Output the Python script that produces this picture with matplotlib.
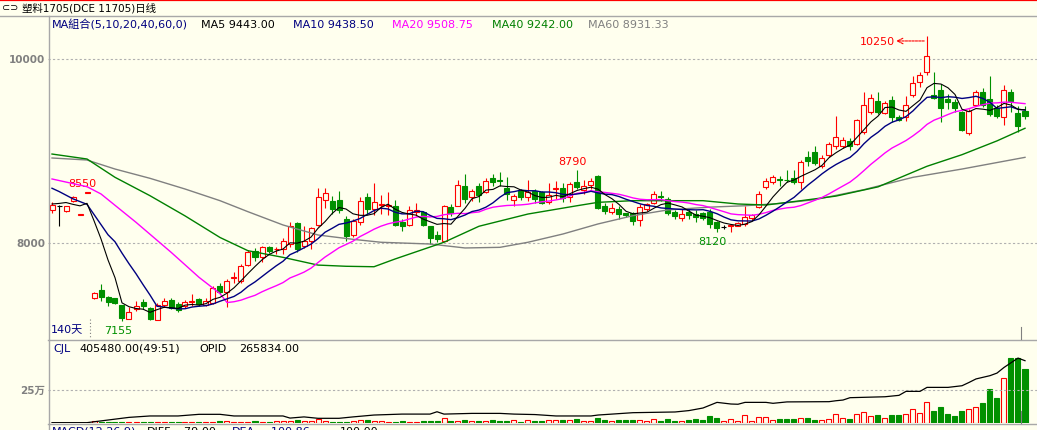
import numpy as np
import pandas as pd
import matplotlib
matplotlib.use("Agg")
import matplotlib.pyplot as plt
from matplotlib.patches import Rectangle
from matplotlib.lines import Line2D

#-----------------------
#Data
#-----------------------
opens = [8362, 8400, 8345, 8453, 8300, 8540, 7400, 7492, 7410, 7400,
         7326, 7174, 7283, 7362, 7290, 7166, 7330, 7380, 7337, 7318,
         7355, 7391, 7330, 7348, 7536, 7471, 7620, 7591, 7760, 7916,
         7844, 7953, 7930, 7935, 7989, 8217, 7971, 8025, 8196, 8467,
         8460, 8467, 8261, 8087, 8225, 8497, 8370, 8410, 8400, 8405,
         8232, 8199, 8334, 8334, 8182, 8087, 8025, 8388, 8405, 8623,
         8497, 8623, 8551, 8706, 8680, 8595, 8471, 8569, 8497, 8569,
         8551, 8442, 8590, 8595, 8497, 8660, 8580, 8634, 8732, 8405,
         8334, 8370, 8326, 8326, 8253, 8370, 8435, 8510, 8478, 8340,
         8268, 8334, 8315, 8323, 8334, 8225, 8170, 8190, 8188, 8207,
         8268, 8388, 8605, 8660, 8700, 8690, 8703, 8660, 8932, 8986,
         8840, 8957, 9058, 9054, 9109, 9076, 9203, 9427, 9547, 9410,
         9554, 9373, 9366, 9609, 9747, 9855, 9609, 9663, 9565, 9536,
         9421, 9196, 9500, 9645, 9565, 9464, 9366, 9638, 9413, 9438]
highs = [8449, 8410, 8405, 8510, 8315, 8550, 7470, 7554, 7427, 7405,
         7326, 7300, 7373, 7390, 7300, 7350, 7400, 7400, 7360, 7380,
         7445, 7400, 7400, 7530, 7560, 7610, 7690, 7770, 7920, 7950,
         7970, 7970, 7960, 8050, 8232, 8230, 8180, 8170, 8595, 8595,
         8510, 8560, 8290, 8260, 8500, 8540, 8650, 8520, 8550, 8470,
         8260, 8400, 8440, 8350, 8190, 8130, 8410, 8420, 8680, 8750,
         8590, 8650, 8710, 8750, 8770, 8720, 8530, 8590, 8680, 8590,
         8570, 8650, 8670, 8650, 8660, 8790, 8680, 8710, 8740, 8430,
         8430, 8400, 8330, 8340, 8424, 8440, 8560, 8560, 8500, 8360,
         8370, 8370, 8360, 8340, 8370, 8240, 8200, 8210, 8225, 8405,
         8320, 8560, 8710, 8740, 8730, 8790, 8790, 8900, 9000, 9050,
         8960, 9095, 9377, 9150, 9140, 9350, 9645, 9620, 9645, 9545,
         9600, 9390, 9600, 9819, 9855, 10250, 9855, 9728, 9620, 9565,
         9440, 9457, 9666, 9680, 9819, 9500, 9717, 9674, 9492, 9486]
lows = [8330, 8190, 8340, 8445, 8300, 8540, 7390, 7373, 7312, 7340,
        7155, 7170, 7264, 7283, 7165, 7160, 7300, 7280, 7250, 7290,
        7320, 7320, 7310, 7340, 7450, 7304, 7565, 7570, 7750, 7800,
        7790, 7890, 7880, 7880, 7953, 7900, 7945, 7940, 8188, 8380,
        8320, 8330, 8020, 8060, 8200, 8320, 8300, 8310, 8300, 8180,
        8130, 8180, 8290, 8180, 7990, 8010, 8020, 8290, 8400, 8440,
        8460, 8450, 8540, 8620, 8620, 8470, 8405, 8470, 8460, 8440,
        8420, 8420, 8480, 8450, 8450, 8590, 8530, 8590, 8370, 8320,
        8310, 8260, 8280, 8196, 8188, 8350, 8420, 8460, 8300, 8260,
        8240, 8260, 8230, 8250, 8160, 8120, 8150, 8120, 8180, 8188,
        8255, 8380, 8590, 8640, 8620, 8660, 8640, 8590, 8840, 8850,
        8820, 8932, 9022, 9030, 9010, 9070, 9185, 9400, 9400, 9400,
        9312, 9330, 9330, 9584, 9692, 9830, 9565, 9320, 9456, 9420,
        9220, 9174, 9486, 9480, 9377, 9360, 9286, 9421, 9203, 9348]
closes = [8413, 8400, 8399, 8497, 8310, 8550, 7455, 7410, 7355, 7345,
          7181, 7247, 7312, 7318, 7174, 7326, 7373, 7293, 7275, 7355,
          7365, 7337, 7373, 7508, 7464, 7591, 7630, 7753, 7905, 7844,
          7953, 7916, 7940, 8018, 8182, 7935, 8025, 8160, 8497, 8543,
          8370, 8359, 8079, 8236, 8460, 8370, 8449, 8420, 8410, 8196,
          8188, 8362, 8359, 8196, 8054, 8043, 8405, 8326, 8630, 8478,
          8569, 8522, 8677, 8666, 8672, 8532, 8508, 8497, 8558, 8478,
          8432, 8522, 8600, 8486, 8641, 8605, 8623, 8677, 8380, 8345,
          8380, 8315, 8305, 8242, 8388, 8424, 8533, 8500, 8323, 8290,
          8315, 8304, 8279, 8268, 8207, 8163, 8170, 8200, 8214, 8279,
          8304, 8533, 8677, 8714, 8690, 8685, 8660, 8877, 8888, 8870,
          8924, 9076, 9149, 9120, 9054, 9340, 9500, 9573, 9427, 9522,
          9366, 9340, 9500, 9739, 9826, 10036, 9573, 9464, 9536, 9464,
          9232, 9438, 9638, 9500, 9402, 9384, 9663, 9547, 9268, 9377]

# volume in thousands of lots
volume = [3, 3, 3, 3, 3, 3, 13, 8, 8, 8,
          8, 8, 8, 8, 8, 8, 8, 8, 8, 8,
          8, 8, 8, 8, 15, 15, 8, 8, 8, 15,
          8, 8, 15, 15, 15, 23, 15, 15, 30, 15,
          8, 8, 8, 15, 23, 23, 15, 15, 8, 8,
          15, 8, 8, 15, 15, 15, 38, 15, 15, 23,
          15, 15, 15, 23, 15, 15, 23, 8, 23, 15,
          15, 23, 23, 23, 23, 30, 15, 15, 38, 23,
          15, 23, 23, 23, 23, 15, 30, 15, 30, 15,
          15, 23, 30, 23, 53, 38, 15, 30, 15, 61,
          15, 45, 45, 23, 30, 30, 30, 38, 38, 23,
          23, 30, 68, 38, 30, 68, 83, 53, 61, 38,
          61, 61, 68, 106, 76, 157, 91, 121, 68, 53,
          91, 106, 121, 152, 258, 189, 341, 492, 492, 405.48]

# open interest (thousands), read at these days
opid_day = [0, 5, 11, 14, 18, 21, 24, 26, 33, 34, 36, 38, 41, 43, 46, 50, 54, 55, 56,
            60, 64, 66, 69, 72, 77, 78, 83, 89, 91, 93, 95, 97, 98, 99, 102, 103, 105,
            111, 112, 113, 114, 119, 121, 122, 124, 125, 128, 130, 131, 132, 134, 135,
            136, 138, 139]
opid_val = [1.4, 1.4, 24, 30, 30, 37, 37, 30, 30, 21, 26, 20, 20, 26, 34, 38, 38, 48, 38,
            41, 41, 38, 36, 30, 30, 34, 44, 47, 53, 64, 88, 81, 80, 88, 88, 84, 90,
            91, 95, 98, 108, 112, 118, 135, 135, 152, 152, 159, 173, 188, 202, 213,
            237, 277, 265.834]

# moving averages that reach back before the first visible day
ma5_head = [8424, 8430, 8440, 8420]
ma10_head = [8595, 8560, 8520, 8480, 8450, 8420, 8310, 8200, 8090]
ma20_day = [0, 5, 7, 12, 17, 21, 24]
ma20_val = [8696, 8612, 8533, 8225, 7900, 7627, 7450]
ma40_day = [0, 5, 9, 14, 19, 24, 28, 33, 38, 42, 46, 49, 56, 61, 68, 75, 78, 83, 93,
            98, 102, 107, 112, 118, 125, 130, 135, 139]
ma40_val = [8967, 8913, 8714, 8514, 8295, 8060, 7916, 7844, 7760, 7747, 7742, 7826, 8008,
            8182, 8315, 8405, 8442, 8460, 8460, 8424, 8413, 8460, 8510, 8610, 8834, 8960,
            9110, 9247]
ma60_day = [0, 5, 9, 14, 19, 24, 28, 33, 38, 43, 47, 54, 59, 64, 68, 73, 78, 83, 88,
            94, 99, 104, 109, 116, 123, 130, 139]
ma60_val = [8924, 8902, 8804, 8703, 8587, 8460, 8340, 8196, 8087, 8040, 8008, 7989, 7946,
            7953, 8008, 8098, 8207, 8297, 8360, 8390, 8405, 8430, 8471, 8580, 8714, 8804,
            8931]

#--------------
#Style
#--------------
plt.rcParams['font.family'] = ['DejaVu Sans', 'Noto Sans CJK SC']
W, H = 1037, 431
BG = '#FFFFEE'
RED = '#FF0000'
GRN = '#009000'
NAVY = '#000080'
GRAY = '#808080'
LINE = '#A8A8A8'

fig = plt.figure(figsize=(W / 100, H / 100), dpi=100, facecolor=BG)

def fx(x):
    return x / W

def fy(y):
    return 1 - y / H

def fline(xs, ys, **kw):
    fig.add_artist(Line2D([fx(x) for x in xs], [fy(y) for y in ys],
                          transform=fig.transFigure, **kw))

def ftext(x, y, s, **kw):
    kw.setdefault('fontsize', 8)
    kw.setdefault('va', 'center')
    fig.text(fx(x), fy(y), s, **kw)

# frame lines
fline([0, W], [0.8, 0.8], color=RED, lw=1.6)
fline([0, W], [16.5, 16.5], color=LINE, lw=1)
fline([48.5, 48.5], [17, H], color=LINE, lw=1)
fline([48, W], [340.5, 340.5], color=LINE, lw=1)
fline([48, W], [424.5, 424.5], color=LINE, lw=1)

ftext(2, 8, '⊂⊃', fontsize=7)
ftext(22, 8, '塑料1705(DCE 11705)日线', fontsize=7.5)

#--------------
#Price panel
#--------------
ppx = 2000 / 184  # price per pixel
ax = fig.add_axes([fx(48), fy(340), fx(W) - fx(48), (340 - 17) / H])
ax.set_xlim(-4 / 7, (W - 52) / 7)
ax.set_ylim(8000 - 96 * ppx, 8000 + 227 * ppx)
ax.axis('off')

for lvl in [8000, 10000]:
    ax.axhline(lvl, color='#B0B0B0', lw=0.8, ls=(0, (2, 2)))
ftext(45, 60, '10000', ha='right', color=GRAY, fontweight='bold', fontsize=7.5)
ftext(45, 244, '8000', ha='right', color=GRAY, fontweight='bold', fontsize=7.5)

bw = 5 / 7
for i in range(len(closes)):
    o, h, l, c = opens[i], highs[i], lows[i], closes[i]
    if c > o:
        ax.vlines(i, c, h, color=RED, lw=0.8)
        ax.vlines(i, l, o, color=RED, lw=0.8)
        ax.add_patch(Rectangle((i - bw / 2, o), bw, c - o, fc=BG, ec=RED, lw=0.8, zorder=3))
    elif c < o:
        ax.vlines(i, l, h, color=GRN, lw=0.8)
        ax.add_patch(Rectangle((i - bw / 2, c), bw, o - c, fc=GRN, ec=GRN, lw=0.8, zorder=3))
    else:
        ax.vlines(i, l, h, color='black', lw=0.8)
        ax.hlines(c, i - bw / 2, i + bw / 2, color='black', lw=0.8)

days = np.arange(len(closes))
cl = pd.Series(closes, dtype=float)
ma5 = cl.rolling(5).mean().to_numpy()
ma5[:len(ma5_head)] = ma5_head
ma10 = cl.rolling(10).mean().to_numpy()
ma10[:len(ma10_head)] = ma10_head
ma20 = cl.rolling(20).mean().to_numpy()
ma20_x = np.concatenate([ma20_day, days[25:]])
ma20_y = np.concatenate([ma20_val, ma20[25:]])

ax.plot(ma60_day, ma60_val, color=GRAY, lw=1, zorder=4)
ax.plot(ma40_day, ma40_val, color='#008000', lw=1, zorder=4)
ax.plot(ma20_x, ma20_y, color='#FF00FF', lw=1, zorder=4)
ax.plot(days, ma10, color=NAVY, lw=1, zorder=4)
ax.plot(days, ma5, color='black', lw=0.8, zorder=4)

# high / low marks
ax.text(4.4, 8652, '8550', color=RED, ha='center', va='center', fontsize=8)
ax.text(9.4, 7054, '7155', color=GRN, ha='center', va='center', fontsize=8)
ax.text(74.4, 8891, '8790', color=RED, ha='center', va='center', fontsize=8)
ax.text(94.4, 8022, '8120', color=GRN, ha='center', va='center', fontsize=8)
ax.text(117.9, 10196, '10250', color=RED, ha='center', va='center', fontsize=8)
ax.annotate('', xy=(120.6, 10196), xytext=(124.6, 10196),
            arrowprops=dict(arrowstyle='->', color=RED, lw=0.8, ls=(0, (2, 1)),
                            shrinkA=0, shrinkB=0))

ftext(52, 25, 'MA組合(5,10,20,40,60,0)', color=NAVY)
ftext(201, 25, 'MA5 9443.00', color='black')
ftext(293, 25, 'MA10 9438.50', color=NAVY)
ftext(392, 25, 'MA20 9508.75', color='#FF00FF')
ftext(492, 25, 'MA40 9242.00', color='#008000')
ftext(588, 25, 'MA60 8931.33', color=GRAY)

ftext(51, 330, '140天', color=NAVY)
fline([90, 90], [320, 340], color=GRAY, lw=0.8, ls=(0, (1, 2)))
fline([1020.5, 1020.5], [328, 340], color=GRAY, lw=0.8)

#--------------
#Volume panel
#--------------
vpx = 250 / 33  # thousand lots per pixel
axv = fig.add_axes([fx(48), fy(424), fx(W) - fx(48), (424 - 340) / H])
axv.set_xlim(ax.get_xlim())
axv.set_ylim(0, 84 * vpx)
axv.axis('off')
axv.axhline(250, color='#B0B0B0', lw=0.8, ls=(0, (2, 2)))

for i in range(len(volume)):
    up = closes[i] >= opens[i]
    axv.add_patch(Rectangle((i - bw / 2, 0), bw, volume[i], fc=BG if up else GRN,
                            ec=RED if up else GRN, lw=0.8))

axo = axv.twinx()
axo.set_xlim(ax.get_xlim())
axo.set_ylim(0, 84 * 4.267)
axo.axis('off')
axo.plot(opid_day, opid_val, color='black', lw=0.9)

ftext(45, 391, '25万', ha='right', color=GRAY, fontweight='bold', fontsize=7.5)
ftext(53, 349, 'CJL', color=NAVY)
ftext(79, 349, '405480.00(49:51)', color='black')
ftext(199, 349, 'OPID', color='black')
ftext(239, 349, '265834.00', color='black')
fline([1020.5, 1020.5], [412, 424], color=GRAY, lw=0.8)

# MACD panel header, cut off by the bottom edge
ftext(52, 427, 'MACD(12,26,9)', color=NAVY, va='top')
ftext(147, 427, 'DIFF', color='black', va='top')
ftext(180, 427, '-79.00', color='black', va='top')
ftext(232, 427, 'DEA', color=NAVY, va='top')
ftext(267, 427, '-100.86', color=NAVY, va='top')
ftext(340, 427, '100.00', color='black', va='top')

fig.savefig('out.png', dpi=100, facecolor=BG)
